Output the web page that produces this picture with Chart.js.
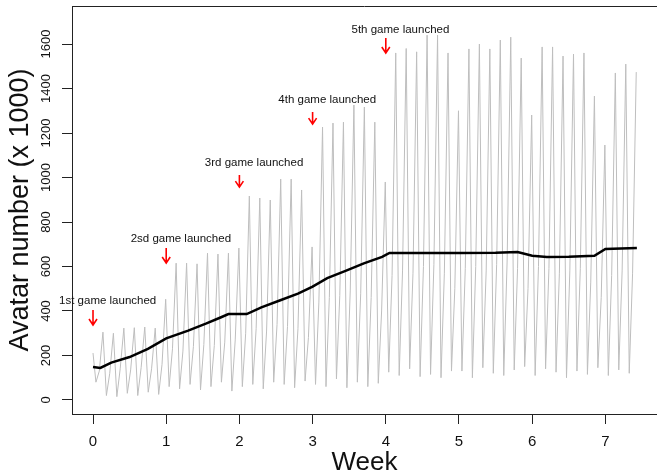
<!DOCTYPE html>
<html>
<head>
<meta charset="utf-8">
<script src="https://cdn.jsdelivr.net/npm/chart.js@4/dist/chart.umd.min.js"></script>
<style>
  html, body { margin: 0; padding: 0; background: #fff; }
  #wrap { width: 657px; height: 476px; position: relative; }
</style>
</head>
<body>
<div id="wrap"><canvas id="chart-area"></canvas></div>
<script>
var dayLow = [
  80, 20, 15, 30, 20, 35, 25,
  60, 50, 70, 45, 60, 80, 40,
  60, 70, 50, 80, 70, 55, 85,
  70, 60, 95, 55, 80, 60, 75,
  125, 110, 140, 105, 115, 100, 130,
  130, 100, 145, 120, 110, 135, 150,
  110, 140, 125, 100, 130, 115, 145,
  110, 135, 120
];
var dayMid = [
  130, 120, 140, 135, 145, 140, 160,
  230, 220, 240, 250, 245, 260, 270,
  300, 320, 310, 340, 330, 320, 280,
  440, 460, 470, 490, 480, 460, 400,
  560, 580, 570, 600, 610, 570, 500,
  590, 600, 580, 610, 620, 590, 500,
  600, 590, 570, 580, 590, 530, 460,
  560, 580, 570
];
var dayPeak = [
  305, 300, 323, 325, 328, 323, 453,
  615, 615, 612, 660, 656, 660, 683,
  917, 908, 899, 993, 993, 944, 688,
  1227, 1245, 1249, 1326, 1317, 1249, 980,
  1560, 1580, 1565, 1640, 1640, 1560, 1300,
  1578, 1600, 1578, 1618, 1631, 1537, 1281,
  1587, 1587, 1546, 1555, 1560, 1366, 1146,
  1470, 1510, 1474
];
var grayStart = 211;
var dayPhase = [0.28, 0.6, 0.95]; // time of day of trough, shoulder, peak

// weekly moving average (black line)
var avgWeek = [0, 0.1, 0.25, 0.5, 0.75, 1.0, 1.3, 1.55, 1.75, 1.85, 2.1, 2.3, 2.55, 2.8, 3.0,
               3.2, 3.45, 3.7, 3.95, 4.05, 4.5, 5.0, 5.5, 5.8, 6.0, 6.2, 6.5, 6.85, 7.0, 7.43];
var avgValue = [148, 144, 168, 193, 230, 277, 312, 344, 372, 386, 386, 416, 447, 478, 510,
                548, 580, 614, 643, 661, 661, 661, 662, 665, 648, 643, 644, 648, 679, 683];

// game launches
var launchWeek = [0, 1, 2, 3, 4];
var launchText = ['1st game launched', '2sd game launched', '3rd game launched',
                  '4th game launched', '5th game launched'];
var launchTextY = [445, 723, 1067, 1348, 1666];
var arrowFrom = [404, 683, 1011, 1294, 1627];
var arrowTo = [337, 616, 957, 1240, 1560];

var xTicks = [0, 1, 2, 3, 4, 5, 6, 7];
var yTicks = [0, 200, 400, 600, 800, 1000, 1200, 1400, 1600];

var grayPoints = [{x: 0, y: grayStart}];
for (var d = 0; d < dayPeak.length; d++) {
  grayPoints.push({x: (d + dayPhase[0]) / 7, y: dayLow[d]});
  grayPoints.push({x: (d + dayPhase[1]) / 7, y: dayMid[d]});
  grayPoints.push({x: (d + dayPhase[2]) / 7, y: dayPeak[d]});
}
var avgPoints = avgWeek.map(function(w, i) { return {x: w, y: avgValue[i]}; });

var FONT = '"Liberation Sans", Arial, Helvetica, sans-serif';

var launchPlugin = {
  id: 'launches',
  afterDatasetsDraw: function(chart) {
    var ctx = chart.ctx, xs = chart.scales.x, ys = chart.scales.y, a = chart.chartArea;
    ctx.save();
    // top edge of the plot box
    ctx.strokeStyle = '#222';
    ctx.lineWidth = 1;
    ctx.beginPath();
    ctx.moveTo(a.left, a.top + 0.5);
    ctx.lineTo(a.right, a.top + 0.5);
    ctx.stroke();

    for (var i = 0; i < launchWeek.length; i++) {
      var x = xs.getPixelForValue(launchWeek[i]);
      var y0 = ys.getPixelForValue(arrowFrom[i]);
      var y1 = ys.getPixelForValue(arrowTo[i]);
      ctx.strokeStyle = '#ff0000';
      ctx.lineWidth = 1.6;
      ctx.beginPath();
      ctx.moveTo(x, y0);
      ctx.lineTo(x, y1);
      ctx.moveTo(x - 4, y1 - 6);
      ctx.lineTo(x, y1);
      ctx.lineTo(x + 4, y1 - 6);
      ctx.stroke();

      ctx.fillStyle = '#111';
      ctx.font = '11.5px ' + FONT;
      ctx.textAlign = 'center';
      ctx.textBaseline = 'middle';
      ctx.fillText(launchText[i], xs.getPixelForValue(launchWeek[i] + 0.2), ys.getPixelForValue(launchTextY[i]));
    }
    ctx.restore();
  }
};

var config = {
  type: 'line',
  data: {
    datasets: [
      {
        data: avgPoints,
        borderColor: '#000',
        borderWidth: 2.5,
        pointRadius: 0,
        tension: 0,
        order: 0
      },
      {
        data: grayPoints,
        borderColor: '#bebebe',
        borderWidth: 1,
        pointRadius: 0,
        tension: 0,
        order: 1
      }
    ]
  },
  options: {
    responsive: true,
    maintainAspectRatio: false,
    animation: false,
    layout: { padding: { top: 6, right: 0, bottom: 0, left: 0 } },
    plugins: { legend: { display: false }, tooltip: { enabled: false } },
    scales: {
      x: {
        type: 'linear',
        min: -0.287,
        max: 7.705,
        afterBuildTicks: function(s) { s.ticks = xTicks.map(function(v) { return {value: v}; }); },
        afterFit: function(s) { s.height = 62; s.paddingLeft = 0; s.paddingRight = 0; },
        grid: { drawOnChartArea: false, drawTicks: true, tickLength: 10, color: '#222' },
        border: { display: true, color: '#222', width: 1 },
        ticks: { autoSkip: false, maxRotation: 0, padding: 9, color: '#111', font: { family: FONT, size: 15 },
                 callback: function(v) { return String(v); } },
        title: { display: true, text: 'Week', color: '#111', padding: 0,
                 font: { family: FONT, size: 26, lineHeight: 1 } }
      },
      y: {
        type: 'linear',
        min: -63,
        max: 1771,
        afterBuildTicks: function(s) { s.ticks = yTicks.map(function(v) { return {value: v}; }); },
        afterFit: function(s) { s.width = 72; s.paddingTop = 0; s.paddingBottom = 0; },
        grid: { drawOnChartArea: false, drawTicks: true, tickLength: 10, color: '#222' },
        border: { display: true, color: '#222', width: 1 },
        ticks: { autoSkip: false, minRotation: 90, maxRotation: 90, crossAlign: 'center', padding: 1,
                 color: '#111', font: { family: FONT, size: 13 },
                 callback: function(v) { return String(v); } },
        title: { display: true, text: 'Avatar number (x 1000)', color: '#111', padding: { top: 7, bottom: 0 },
                 font: { family: FONT, size: 27, lineHeight: 1 } }
      }
    }
  },
  plugins: [launchPlugin]
};

var ctx = document.getElementById('chart-area').getContext('2d');
window.myChart = new Chart(ctx, config);
</script>
</body>
</html>
